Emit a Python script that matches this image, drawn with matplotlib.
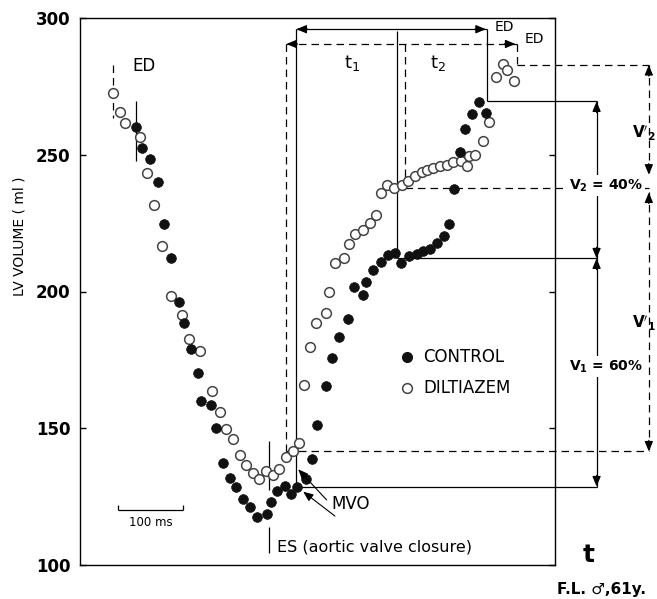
import matplotlib
matplotlib.use('Agg')
import matplotlib.pyplot as plt

# ---------------- data (time in ms, volume in ml) ----------------
ctrl_t = [85.7, 95.4, 107.7, 120.0, 129.2, 139.5, 151.8, 159.5, 171.2, 181.1,
          186.9, 202.3, 209.2, 220.8, 230.8, 240.5, 251.2, 262.0, 271.8, 287.7,
          294.2, 303.1, 314.9, 324.6, 334.6, 348.2, 356.9, 365.4, 378.9, 387.2,
          398.9, 412.8, 422.0, 434.9, 440.0, 451.2, 463.1, 474.3, 484.6, 493.4,
          506.2, 518.0, 528.2, 538.5, 549.2, 559.5, 567.7, 575.8, 584.6, 592.3,
          603.4, 613.8, 624.6]
ctrl_v = [260.1, 252.5, 248.3, 240.0, 224.7, 212.3, 196.1, 188.4, 179.0, 170.1,
          160.0, 158.5, 150.1, 137.4, 131.9, 128.4, 124.3, 121.2, 117.7, 118.7,
          123.0, 127.0, 128.9, 126.0, 128.6, 131.3, 138.8, 151.1, 165.5, 175.6,
          183.5, 189.8, 201.8, 198.7, 203.6, 207.9, 210.9, 213.2, 214.1, 210.3,
          212.8, 213.8, 214.8, 215.7, 217.6, 220.3, 224.5, 237.5, 251.0, 259.4,
          264.8, 269.4, 265.2]
dil_t = [51.2, 62.0, 70.0, 92.6, 102.6, 113.8, 126.2, 140.0, 156.5, 168.2,
         184.6, 202.6, 215.4, 225.4, 235.8, 245.5, 255.8, 266.6, 275.8, 286.5,
         297.4, 306.6, 316.9, 327.2, 337.4, 345.4, 353.8, 363.1, 378.0, 383.5,
         392.8, 406.2, 413.8, 423.1, 435.8, 446.2, 455.4, 463.1, 471.8, 483.1,
         494.9, 505.1, 515.4, 525.7, 533.4, 543.5, 553.8, 564.2, 574.3, 585.8,
         595.4, 598.5, 608.2, 619.5, 628.9, 640.5, 650.8, 657.7, 668.5]
dil_v = [272.7, 265.7, 261.6, 256.4, 243.2, 231.8, 216.5, 198.5, 191.3, 182.5,
         178.4, 163.7, 155.8, 149.7, 146.0, 140.4, 136.6, 133.7, 131.3, 134.4,
         132.8, 135.0, 139.6, 141.8, 144.7, 165.8, 179.8, 188.6, 192.0, 199.8,
         210.3, 212.1, 217.2, 220.9, 222.5, 225.2, 228.0, 236.1, 238.9, 237.7,
         238.9, 240.3, 242.2, 243.8, 244.6, 245.3, 245.9, 246.4, 247.2, 247.7,
         245.9, 249.5, 250.0, 255.0, 262.0, 278.3, 283.0, 281.0, 277.1]
yticks = [100, 150, 200, 250, 300]
series_labels = ["CONTROL", "DILTIAZEM"]

# event times (ms)
T_ES = 290.8
T_DIL_MVO, T_CTRL_MVO = 317.7, 333.1
T_CTRL_T1, T_DIL_T1 = 487.2, 499.5
T_CTRL_ED, T_DIL_ED = 626.6, 673.1
T_CTRL_ED0, T_DIL_ED0 = 85.7, 51.2
# event volumes (ml)
CTRL_EDV, CTRL_T1V, CTRL_MVOV = 269.5, 212.1, 128.7
DIL_EDV, DIL_T1V, DIL_MVOV = 282.8, 237.7, 141.5

# ---------------- figure ----------------
fig = plt.figure(figsize=(6.57, 5.99), dpi=100)
ax = fig.add_axes([80/657, 34/599, 475/657, 547/599])
ax.set_xlim(0, 731)
ax.set_ylim(100, 300)
ax.set_xticks([])
ax.set_yticks(yticks)
ax.set_yticklabels([str(v) for v in yticks], fontweight='bold', fontsize=12)
ax.tick_params(axis='y', direction='in', length=4, width=1, pad=7,
               left=True, right=True)
for s in ax.spines.values():
    s.set_linewidth(1.0)

LW = 0.9
DASH = (0, (6, 4))

def seg(x0, y0, x1, y1, dashed=False, lw=LW):
    ax.plot([x0, x1], [y0, y1], color='k', lw=lw, ls=DASH if dashed else '-',
            clip_on=False, zorder=2, solid_capstyle='butt', dash_capstyle='butt')

HEAD = dict(arrowstyle='-|>,head_length=0.6,head_width=0.25', lw=LW,
            color='k', shrinkA=0, shrinkB=0, mutation_scale=10)
OFFS = {'left': (8, 0), 'right': (-8, 0), 'up': (0, -8), 'down': (0, 8)}

def head(x, y, d):
    ax.annotate('', xy=(x, y), xytext=OFFS[d], textcoords='offset points',
                arrowprops=HEAD, annotation_clip=False, zorder=3)

# ---- time arrows at top ----
Y_TOP_C, Y_TOP_D = 295.9, 290.5
seg(T_CTRL_MVO, Y_TOP_C, T_CTRL_ED, Y_TOP_C)
head(T_CTRL_MVO, Y_TOP_C, 'left'); head(T_CTRL_ED - 2, Y_TOP_C, 'right')
seg(T_DIL_MVO, Y_TOP_D, T_DIL_ED, Y_TOP_D, dashed=True)
head(T_DIL_MVO, Y_TOP_D, 'left'); head(T_DIL_ED - 3, Y_TOP_D, 'right')

# verticals
seg(T_CTRL_MVO, Y_TOP_C, T_CTRL_MVO, CTRL_MVOV)
seg(T_DIL_MVO, Y_TOP_D, T_DIL_MVO, DIL_MVOV, dashed=True)
seg(T_CTRL_T1, Y_TOP_C - 0.5, T_CTRL_T1, CTRL_T1V)
seg(T_DIL_T1, Y_TOP_D, T_DIL_T1, DIL_T1V, dashed=True)
seg(T_CTRL_ED, Y_TOP_C, T_CTRL_ED, CTRL_EDV)
seg(T_DIL_ED, Y_TOP_D, T_DIL_ED, DIL_EDV, dashed=True)

# horizontals to the volume brackets
X_V, X_VP = 795.0, 875.4
seg(T_CTRL_ED, CTRL_EDV, X_V, CTRL_EDV)
seg(T_CTRL_T1, CTRL_T1V, X_V, CTRL_T1V)
seg(T_CTRL_MVO, CTRL_MVOV, X_V, CTRL_MVOV)
seg(T_DIL_ED, DIL_EDV, X_VP, DIL_EDV, dashed=True)
seg(T_DIL_T1, DIL_T1V, X_VP, DIL_T1V, dashed=True)
seg(T_DIL_MVO, DIL_MVOV, X_VP, DIL_MVOV, dashed=True)

# control volume brackets (solid)
seg(X_V, CTRL_EDV, X_V, CTRL_MVOV)
head(X_V, CTRL_EDV, 'up'); head(X_V, CTRL_T1V, 'down')
head(X_V, CTRL_T1V, 'up'); head(X_V, CTRL_MVOV, 'down')
box = dict(facecolor='white', edgecolor='none', pad=1.5)
ax.text(X_V + 15, DIL_T1V + 1, r"$\mathbf{V_2}$ = 40%", fontsize=10,
        fontweight='bold', ha='center', va='center', bbox=box, zorder=5,
        clip_on=False)
ax.text(X_V + 15, 172.5, r"$\mathbf{V_1}$ = 60%", fontsize=10,
        fontweight='bold', ha='center', va='center', bbox=box, zorder=5,
        clip_on=False)

# diltiazem volume brackets (dashed)
seg(X_VP, DIL_EDV, X_VP, DIL_T1V + 5, dashed=True)
seg(X_VP, DIL_T1V - 1.5, X_VP, DIL_MVOV, dashed=True)
head(X_VP, DIL_EDV, 'up'); head(X_VP, DIL_T1V + 5, 'down')
head(X_VP, DIL_T1V - 1.5, 'up'); head(X_VP, DIL_MVOV, 'down')
ax.text(849.0, 258.0, r"$\mathbf{V'_2}$", fontsize=11, ha='left',
        va='center', zorder=5, clip_on=False)
ax.text(849.0, 188.5, r"$\mathbf{V'_1}$", fontsize=11, ha='left',
        va='center', zorder=5, clip_on=False)

# ED markers at the start
seg(T_DIL_ED0, DIL_EDV, T_DIL_ED0, 263.4, dashed=True)
seg(T_CTRL_ED0, CTRL_EDV, T_CTRL_ED0, 247.8)
ax.text(98.5, 282.5, "ED", fontsize=12, ha='center', va='center')
ax.text(653.8, 296.8, "ED", fontsize=10, ha='center', va='center', zorder=5)
ax.text(700.0, 292.2, "ED", fontsize=10, ha='center', va='center',
        clip_on=False, zorder=5)
ax.text(418.0, 283.5, r"t$_1$", fontsize=13, ha='center', va='center')
ax.text(551.0, 283.5, r"t$_2$", fontsize=13, ha='center', va='center')

# ES line
seg(T_ES, 145.3, T_ES, 127.4)
seg(T_ES, 113.9, T_ES, 104.4)
ax.text(302.6, 106.6, "ES (aortic valve closure)", fontsize=11.5,
        ha='left', va='center')

# MVO arrows
MVO_HEAD = dict(HEAD, lw=0.8)
ax.annotate('', xy=(335.8, 135.0), xytext=(379.5, 123.8),
            arrowprops=MVO_HEAD, zorder=5)
ax.annotate('', xy=(343.5, 126.8), xytext=(392.3, 117.9),
            arrowprops=MVO_HEAD, zorder=5)
ax.text(387.2, 122.3, "MVO", fontsize=12, ha='left', va='center')

# time scale bar
seg(58.9, 120.1, 158.9, 120.1)
seg(58.9, 120.1, 58.9, 121.9)
seg(158.9, 120.1, 158.9, 121.9)
ax.text(108.9, 115.4, "100 ms", fontsize=8.5, ha='center', va='center')

# data
ax.plot(dil_t, dil_v, ls='none', marker='o', ms=7, mfc='white', mec='#444444',
        mew=1.1, zorder=3, clip_on=False)
ax.plot(ctrl_t, ctrl_v, ls='none', marker='o', ms=7, mfc='#111111',
        mec='#111111', mew=0.5, zorder=4, clip_on=False)

# legend
ax.plot([502.6], [176.2], ls='none', marker='o', ms=7, mfc='#111111',
        mec='#111111')
ax.plot([502.6], [164.6], ls='none', marker='o', ms=7, mfc='white',
        mec='#444444', mew=1.1)
ax.text(527.7, 176.2, series_labels[0], fontsize=12, ha='left', va='center')
ax.text(527.7, 164.6, series_labels[1], fontsize=12, ha='left', va='center')

# outside labels
fig.text(20/657, 1 - 236/599, "LV VOLUME ( ml )", rotation=90, fontsize=10,
         ha='center', va='center')
ax.text(783.0, 103.7, "t", fontsize=18, fontweight='bold', ha='center',
        va='center', clip_on=False)
ax.text(733.8, 90.9, "F.L. \u2642,61y.", fontsize=11, fontweight='bold',
        ha='left', va='center', clip_on=False)

fig.savefig('out.png', dpi=100)
